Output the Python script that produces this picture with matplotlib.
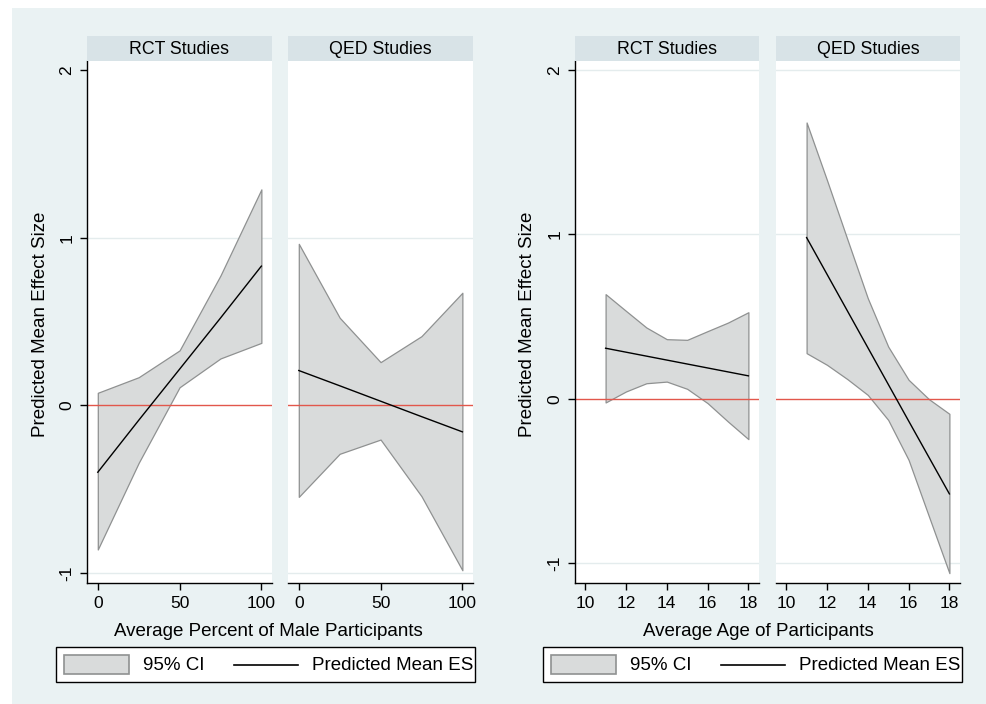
import numpy as np
import matplotlib.pyplot as plt
from matplotlib.patches import Rectangle
from matplotlib.lines import Line2D

plt.rcParams['font.family'] = ['Liberation Sans', 'DejaVu Sans']

# данные: процент участников-мужчин
pct_x = [0, 25, 50, 75, 100]
pct_rct_mean = [-0.40, -0.09, 0.215, 0.52, 0.83]
pct_rct_hi = [0.074, 0.167, 0.327, 0.774, 1.288]
pct_rct_lo = [-0.861, -0.344, 0.107, 0.279, 0.372]
pct_qed_mean = [0.207, 0.116, 0.024, -0.068, -0.159]
pct_qed_hi = [0.963, 0.522, 0.257, 0.412, 0.671]
pct_qed_lo = [-0.547, -0.290, -0.205, -0.543, -0.985]

# данные: средний возраст участников
age_x = [11, 12, 13, 14, 15, 16, 17, 18]
age_rct_mean = [0.308, 0.284, 0.260, 0.236, 0.212, 0.188, 0.164, 0.140]
age_rct_hi = [0.637, 0.535, 0.434, 0.363, 0.359, 0.412, 0.464, 0.527]
age_rct_lo = [-0.022, 0.045, 0.095, 0.105, 0.061, -0.026, -0.138, -0.245]
age_qed_mean = [0.981, 0.758, 0.535, 0.312, 0.089, -0.134, -0.356, -0.578]
age_qed_hi = [1.681, 1.33, 0.97, 0.612, 0.318, 0.116, -0.002, -0.091]
age_qed_lo = [0.278, 0.207, 0.120, 0.024, -0.128, -0.371, -0.716, -1.060]

panel_titles = ['RCT Studies', 'QED Studies']
x_titles = ['Average Percent of Male Participants', 'Average Age of Participants']
y_title = 'Predicted Mean Effect Size'
legend_labels = ['95% CI', 'Predicted Mean ES']

BG = '#eaf2f3'
STRIP = '#d8e3e7'
FILL = '#d9dbdb'
EDGE = '#8f9191'
RED = '#e2574c'
GRID = '#e4eced'

W, H = 987, 704
fig = plt.figure(figsize=(W / 100, H / 100), dpi=100)
fig.patch.set_facecolor('white')
fig.patches.append(Rectangle((12 / W, 0), 1 - 12 / W, 1 - 8 / H,
                             transform=fig.transFigure, facecolor=BG,
                             edgecolor='none', zorder=-10))

charts = [
    dict(x=pct_x, series=[(pct_rct_mean, pct_rct_lo, pct_rct_hi),
                          (pct_qed_mean, pct_qed_lo, pct_qed_hi)],
         lefts=[87, 288], width=185, xlim=(-6.6, 106.5), ylim=(-1.061, 2.054),
         xticks=[0, 50, 100], grid=[-1, 1], ylab_x=41, leg=(56, 475),
         xlab_c=268),
    dict(x=age_x, series=[(age_rct_mean, age_rct_lo, age_rct_hi),
                          (age_qed_mean, age_qed_lo, age_qed_hi)],
         lefts=[575, 776], width=184, xlim=(9.5, 18.52), ylim=(-1.12, 2.055),
         xticks=[10, 12, 14, 16, 18], grid=[-1, 1, 2], ylab_x=528, leg=(543, 962),
         xlab_c=758),
]

top, bottom = 61, 583
strip_h = 25
FS = 13.5

for k, ch in enumerate(charts):
    for i, (mean, lo, hi) in enumerate(ch['series']):
        l = ch['lefts'][i]
        ax = fig.add_axes([l / W, 1 - bottom / H, ch['width'] / W, (bottom - top) / H])
        ax.set_facecolor('white')
        for g in ch['grid']:
            ax.axhline(g, color=GRID, lw=1, zorder=0)
        ax.fill_between(ch['x'], lo, hi, facecolor=FILL, edgecolor=EDGE,
                        lw=0.9, zorder=1)
        ax.axhline(0, color=RED, lw=1, zorder=2)
        ax.plot(ch['x'], mean, color='black', lw=1, zorder=3)
        ax.set_xlim(*ch['xlim'])
        ax.set_ylim(*ch['ylim'])
        ax.set_xticks(ch['xticks'])
        ax.set_yticks([-1, 0, 1, 2])
        ax.tick_params(direction='out', length=5, width=1, labelsize=12.5,
                       colors='black', pad=4)
        for s in ['top', 'right']:
            ax.spines[s].set_visible(False)
        ax.spines['bottom'].set_linewidth(1)
        if i == 0:
            ax.spines['left'].set_linewidth(1)
            ax.set_yticklabels(['-1', '0', '1', '2'], rotation=90, va='center')
        else:
            ax.spines['left'].set_visible(False)
            ax.tick_params(axis='y', left=False, labelleft=False)

        # заголовок панели
        sax = fig.add_axes([l / W, 1 - top / H, ch['width'] / W, strip_h / H])
        sax.set_facecolor(STRIP)
        sax.set_xticks([])
        sax.set_yticks([])
        for s in sax.spines.values():
            s.set_visible(False)
        sax.text(0.5, 0.45, panel_titles[i], ha='center', va='center',
                 fontsize=12.8, transform=sax.transAxes)

    fig.text(ch['ylab_x'] / W, 1 - 324 / H, y_title, rotation=90,
             ha='center', va='center', fontsize=FS)
    fig.text(ch['xlab_c'] / W, 1 - 631 / H, x_titles[k],
             ha='center', va='center', fontsize=FS)

    # легенда
    x0, x1 = ch['leg']
    fig.patches.append(Rectangle((x0 / W, 1 - 682 / H), (x1 - x0) / W, 35 / H,
                                 transform=fig.transFigure, facecolor='white',
                                 edgecolor='black', lw=1, zorder=5))
    fig.patches.append(Rectangle(((x0 + 8) / W, 1 - 674 / H), 65 / W, 19 / H,
                                 transform=fig.transFigure, facecolor=FILL,
                                 edgecolor=EDGE, lw=1.2, zorder=6))
    fig.text((x0 + 87) / W, 1 - 665 / H, legend_labels[0], ha='left',
             va='center', fontsize=FS, zorder=7)
    fig.lines.append(Line2D([(x0 + 178) / W, (x0 + 242) / W],
                            [1 - 665 / H, 1 - 665 / H],
                            transform=fig.transFigure, color='black', lw=1.2,
                            zorder=7))
    fig.text((x0 + 256) / W, 1 - 665 / H, legend_labels[1], ha='left',
             va='center', fontsize=FS, zorder=7)

fig.savefig('out.png', dpi=100, facecolor=fig.get_facecolor())
